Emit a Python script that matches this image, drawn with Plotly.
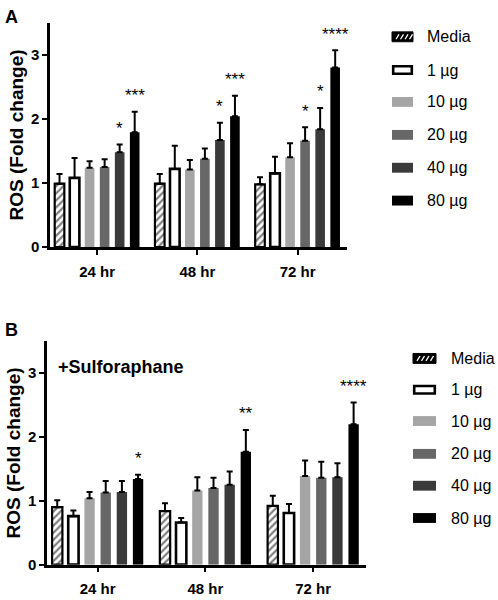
import plotly.graph_objects as go

# ---------------- data ----------------
times = ["24 hr", "48 hr", "72 hr"]
doses = ["Media", "1 µg", "10 µg", "20 µg", "40 µg", "80 µg"]

# Panel A (no sulforaphane)
A_media = [0.99, 0.99, 0.98]
A_1 = [1.08, 1.22, 1.15]
A_10 = [1.24, 1.21, 1.40]
A_20 = [1.25, 1.38, 1.66]
A_40 = [1.48, 1.67, 1.84]
A_80 = [1.79, 2.04, 2.80]
A_err_media = [0.15, 0.15, 0.11]
A_err_1 = [0.31, 0.36, 0.26]
A_err_10 = [0.10, 0.15, 0.22]
A_err_20 = [0.12, 0.16, 0.21]
A_err_40 = [0.12, 0.27, 0.33]
A_err_80 = [0.32, 0.32, 0.27]
A_sig = [["", "", ""], ["", "", ""], ["", "", ""], ["", "", "*"],
         ["*", "*", "*"], ["***", "***", "****"]]

# Panel B (+Sulforaphane)
B_media = [0.90, 0.84, 0.92]
B_1 = [0.76, 0.66, 0.81]
B_10 = [1.04, 1.16, 1.39]
B_20 = [1.13, 1.20, 1.36]
B_40 = [1.14, 1.25, 1.37]
B_80 = [1.34, 1.77, 2.20]
B_err_media = [0.11, 0.12, 0.16]
B_err_1 = [0.09, 0.07, 0.14]
B_err_10 = [0.10, 0.21, 0.24]
B_err_20 = [0.18, 0.16, 0.25]
B_err_40 = [0.17, 0.21, 0.22]
B_err_80 = [0.07, 0.34, 0.34]
B_sig = [["", "", ""], ["", "", ""], ["", "", ""], ["", "", ""],
         ["", "", ""], ["*", "**", "****"]]

y_ticks = [0, 1, 2, 3]
y_title = "ROS (Fold change)"
panel_B_note = "+Sulforaphane"

# ---------------- styling ----------------
FONT = "Liberation Sans"
W, H = 498, 600
colors = ["white", "white", "#a5a5a5", "#676767", "#3a3a3a", "#000000"]
BARGAP = 0.10
xpos = list(range(len(times)))

A_vals = [A_media, A_1, A_10, A_20, A_40, A_80]
A_errs = [A_err_media, A_err_1, A_err_10, A_err_20, A_err_40, A_err_80]
B_vals = [B_media, B_1, B_10, B_20, B_40, B_80]
B_errs = [B_err_media, B_err_1, B_err_10, B_err_20, B_err_40, B_err_80]

fig = go.Figure()


def add_panel(vals, errs, xa, ya):
    for i, name in enumerate(doses):
        marker = dict(color=colors[i], line=dict(width=0))
        if i == 0:
            marker = dict(color="white",
                          pattern=dict(shape="/", fgcolor="black", bgcolor="white",
                                       size=5, solidity=0.45),
                          line=dict(color="black", width=2.2))
        elif i == 1:
            marker = dict(color="white", line=dict(color="black", width=2.6))
        fig.add_trace(go.Bar(
            x=xpos, y=vals[i], name=name, marker=marker,
            error_y=dict(type="data", array=errs[i], arrayminus=[0] * len(times),
                         symmetric=False, color="black", thickness=2, width=3),
            xaxis=xa, yaxis=ya, showlegend=False))


add_panel(A_vals, A_errs, "x", "y")
add_panel(B_vals, B_errs, "x2", "y2")

slot = (1 - BARGAP) / len(doses)
annotations = []


def add_stars(vals, errs, sig, xref, yref):
    for i in range(len(doses)):
        for j in range(len(times)):
            s = sig[i][j]
            if s:
                annotations.append(dict(
                    x=xpos[j] + (i - (len(doses) - 1) / 2) * slot,
                    y=vals[i][j] + errs[i][j] + 0.33,
                    xref=xref, yref=yref, text=s, showarrow=False,
                    yanchor="middle", yshift=-5,
                    font=dict(family=FONT, size=17, color="black")))


add_stars(A_vals, A_errs, A_sig, "x", "y")
add_stars(B_vals, B_errs, B_sig, "x2", "y2")

# panel letters and note
annotations += [
    dict(x=3 / W, y=1 - 5 / H, xref="paper", yref="paper", text="<b>A</b>",
         showarrow=False, xanchor="left", yanchor="top",
         font=dict(family=FONT, size=18, color="black")),
    dict(x=3 / W, y=1 - 322 / H, xref="paper", yref="paper", text="<b>B</b>",
         showarrow=False, xanchor="left", yanchor="top",
         font=dict(family=FONT, size=18, color="black")),
    dict(x=56 / W, y=1 - 372 / H, xref="paper", yref="paper",
         text="<b>" + panel_B_note + "</b>", showarrow=False,
         xanchor="left", yanchor="middle",
         font=dict(family=FONT, size=18, color="black")),
]

# ---------------- manual legends ----------------
shapes = []


def px(x):
    return x / W


def py(y):
    return 1 - y / H


def add_legend(x0, x1, ys, text_x):
    for i, name in enumerate(doses):
        yc = ys[i]
        y0, y1 = yc - 5, yc + 5
        if i == 0:
            shapes.append(dict(type="rect", xref="paper", yref="paper",
                               x0=px(x0), x1=px(x1), y0=py(y1), y1=py(y0),
                               fillcolor="black", line=dict(color="black", width=1)))
            for k in range(4):
                lx = x0 + 4 + k * 4.5
                shapes.append(dict(type="line", xref="paper", yref="paper",
                                   x0=px(lx), x1=px(lx + 3), y0=py(y1 - 2.5), y1=py(y0 + 2.5),
                                   line=dict(color="white", width=1.3)))
        elif i == 1:
            shapes.append(dict(type="rect", xref="paper", yref="paper",
                               x0=px(x0 + 1.2), x1=px(x1 - 1.2), y0=py(y1 - 1.2), y1=py(y0 + 1.2),
                               fillcolor="white", line=dict(color="black", width=2.6)))
        else:
            shapes.append(dict(type="rect", xref="paper", yref="paper",
                               x0=px(x0), x1=px(x1), y0=py(y1), y1=py(y0),
                               fillcolor=colors[i], line=dict(width=0)))
        annotations.append(dict(x=px(text_x), y=py(yc), xref="paper", yref="paper",
                                text=name, showarrow=False, xanchor="left",
                                yanchor="middle",
                                font=dict(family=FONT, size=16, color="black")))


add_legend(392, 413, [37.3, 71, 103.3, 136.7, 170, 203.3], 425)
add_legend(413, 436, [363.3, 395, 426.7, 460, 492.3, 525], 448.5)

# ---------------- axes ----------------
axis_common_x = dict(
    tickmode="array", tickvals=xpos, ticktext=times, range=[-0.47, 2.49],
    showline=True, linecolor="black", linewidth=2.5, ticks="outside",
    ticklen=5, tickwidth=2, tickcolor="black", showgrid=False, zeroline=False,
    tickfont=dict(family=FONT, size=15, color="black", weight="bold"),
    ticklabelstandoff=4)
axis_common_y = dict(
    range=[0, 3.5], tickmode="array", tickvals=y_ticks,
    showline=True, linecolor="black", linewidth=2.5, ticks="outside",
    ticklen=5, tickwidth=2, tickcolor="black", showgrid=False, zeroline=False,
    tickfont=dict(family=FONT, size=15, color="black", weight="bold"),
    title=dict(text=y_title, standoff=3,
               font=dict(family=FONT, size=19, color="black", weight="bold")))

fig.update_layout(
    width=W, height=H, margin=dict(l=0, r=0, t=0, b=0),
    paper_bgcolor="white", plot_bgcolor="white",
    barmode="group", bargap=BARGAP, bargroupgap=0.36,
    showlegend=False,
    xaxis=dict(axis_common_x, domain=[50 / W, 346.7 / W], anchor="y"),
    yaxis=dict(axis_common_y, domain=[1 - 250.5 / H, 1 - 23 / H], anchor="x"),
    xaxis2=dict(axis_common_x, domain=[47 / W, 366 / W], anchor="y2"),
    yaxis2=dict(axis_common_y, domain=[1 - 572.3 / H, 1 - 345.8 / H], anchor="x2"),
    annotations=annotations, shapes=shapes,
)

fig.write_html(
    "out.html",
    config={"displayModeBar": False},
    post_script="document.body.style.margin='0';document.body.style.overflow='hidden';",
)
